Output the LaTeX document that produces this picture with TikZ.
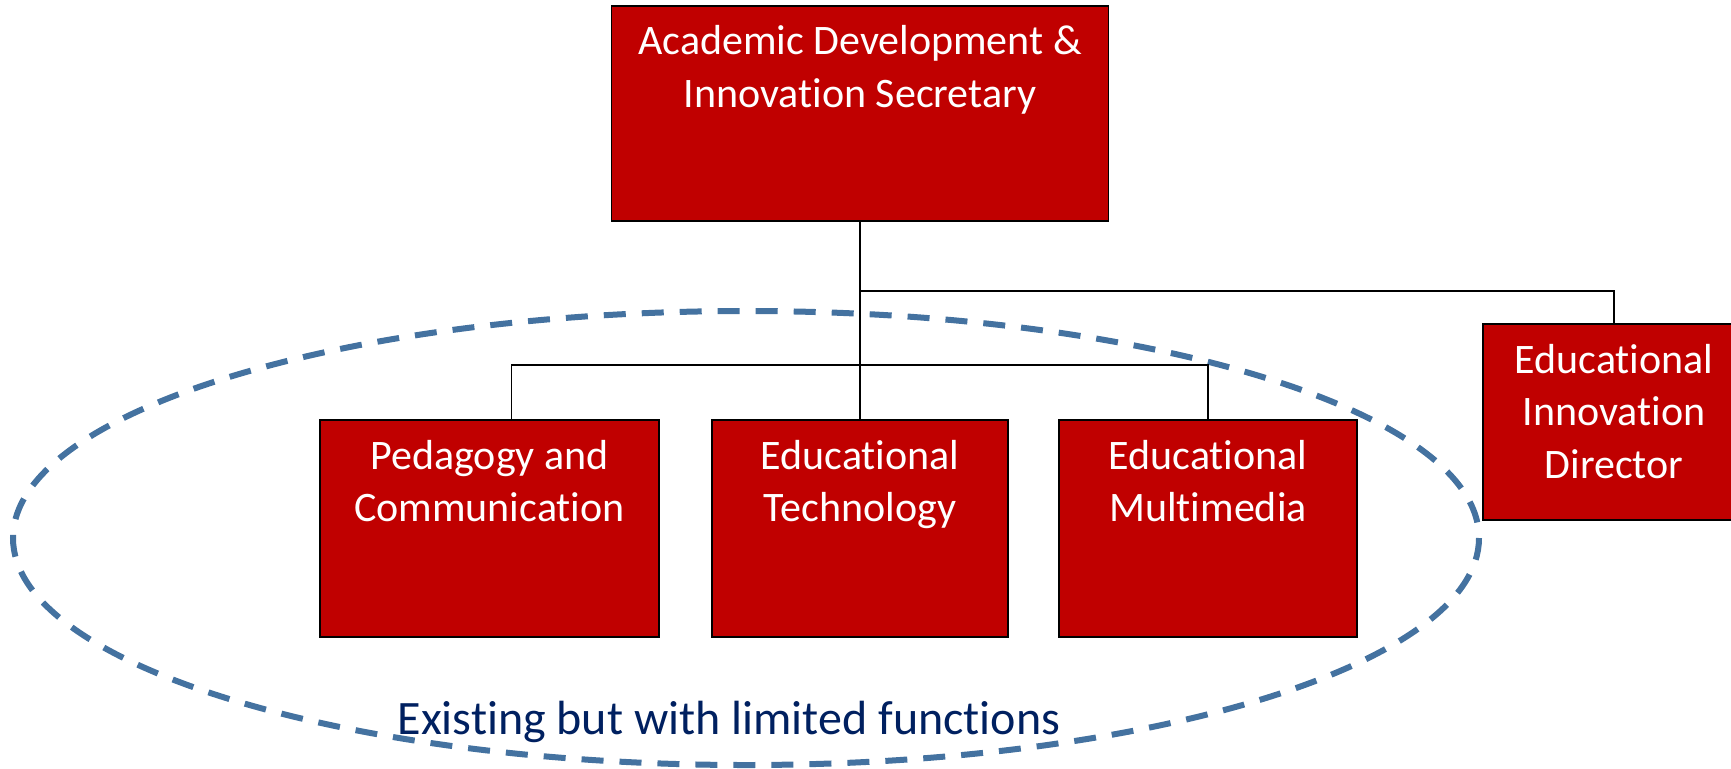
\documentclass[tikz,border=0pt]{standalone}
\usepackage{fontspec}
\setmainfont{Carlito}[Ligatures=NoCommon]
\usetikzlibrary{positioning}

\definecolor{boxred}{RGB}{192,0,0}
\definecolor{ringblue}{RGB}{68,114,160}
\definecolor{notenavy}{RGB}{0,32,96}

\begin{document}
\begin{tikzpicture}[x=0.5pt, y=-0.5pt,
	unit/.style    = {draw=black, line width=0.9pt, fill=boxred, rectangle, inner sep=0pt},
	unittxt/.style = {anchor=north, align=center, text=white, inner sep=0pt, font=\fontsize{21}{26.25}\selectfont},
	link/.style    = {draw=black, line width=0.75pt},
	ring/.style    = {draw=ringblue, line width=3pt, dash pattern=on 11pt off 8pt},
	note/.style    = {anchor=base, text=notenavy, inner sep=0pt, font=\fontsize{24}{28}\selectfont}]

	\useasboundingbox (0,0) rectangle (1731,768);

	% ring round the existing units, drawn first so the lines sit on top
	\draw[ring] (746,538) ellipse [x radius=733, y radius=227];

	% head of the chart
	\node[unit, minimum width=248.5pt, minimum height=107.5pt] (sec) at (860,113.5) {};

	% the units below the head
	\node[unit, minimum width=169.5pt, minimum height=108.5pt] (ped)  at (489.5,528.5) {};
	\node[unit, minimum width=148pt,   minimum height=108.5pt] (tech) at (860,528.5) {};
	\node[unit, minimum width=149pt,   minimum height=108.5pt] (mm)   at (1208,528.5) {};
	\node[unit, minimum width=131pt,   minimum height=98pt]    (dir)  at (1614,422) {};

	% texts, set at the top of each box
	\node[unittxt] (sectxt)  at ([yshift=-6.2pt]sec.north)  {\strut Academic Development \&\\Innovation Secretary};
	\node[unittxt] (pedtxt)  at ([yshift=-6.6pt]ped.north)  {\strut Pedagogy and\\Communication};
	\node[unittxt] (techtxt) at ([yshift=-6.6pt]tech.north) {\strut Educational\\Technology};
	\node[unittxt] (mmtxt)   at ([yshift=-6.6pt]mm.north)   {\strut Educational\\Multimedia};
	\node[unittxt] (dirtxt)  at ([yshift=-6.6pt]dir.north)  {\strut Educational\\Innovation\\Director};

	% lines from the head to its units
	\coordinate (dirbar) at (860,291);
	\coordinate (kidbar) at (860,365);
	\draw[link] (sec.south) -- (tech.north);
	\draw[link] (dirbar) -| (dir.north);
	\draw[link] ([xshift=11pt]ped.north) |- (kidbar) -| (mm.north);

	% note under the ring
	\node[note] (lim) at (729,734) {Existing but with limited functions};

\end{tikzpicture}
\end{document}
